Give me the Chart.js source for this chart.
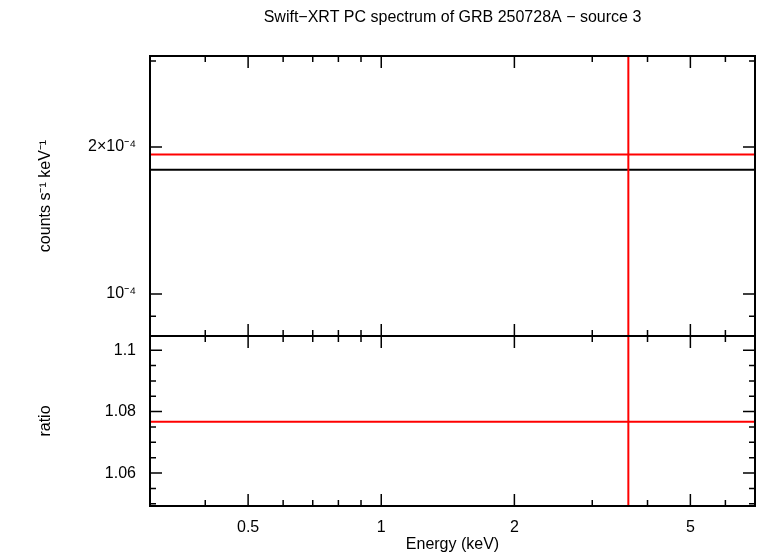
<!DOCTYPE html>
<html><head><meta charset="utf-8">
<script src="https://cdn.jsdelivr.net/npm/chart.js@4"></script>
<style>html,body{margin:0;padding:0;background:#fff}canvas{display:block}</style>
</head><body>
<div style="width:758px;height:556px"><canvas id="c"></canvas></div>
<script>
const xRange = [0.3, 7];
const specRange = [8.2e-5, 3.07e-4];
const ratioRange = [1.0493, 1.1046];
const dataX = [3.62];
const dataXLo = [0.3];
const dataXHi = [7];
const dataY = [1.93e-4];
const modelY = [1.795e-4];
const ratioY = [1.0767];
const xTickLabels = [0.5, 1, 2, 5];
const yTopTicks = [1e-4, 2e-4];
const yTopLabels = ['10\u207B\u2074', '2\u00D710\u207B\u2074'];
const yBotTicks = [1.06, 1.08, 1.1];
const yBotLabels = ['1.06', '1.08', '1.1'];

const FONT = '"Liberation Sans", Arial, sans-serif';
const red = '#ff0000';
const ds = [];
dataX.forEach((x,i)=>{
  ds.push({data:[{x:dataXLo[i],y:dataY[i]},{x:dataXHi[i],y:dataY[i]}],yAxisID:'y',borderColor:red,borderWidth:2,pointRadius:0,showLine:true});
  ds.push({data:[{x:x,y:specRange[0]},{x:x,y:specRange[1]}],yAxisID:'y',borderColor:red,borderWidth:2,pointRadius:0,showLine:true});
  ds.push({data:[{x:dataXLo[i],y:modelY[i]},{x:dataXHi[i],y:modelY[i]}],yAxisID:'y',borderColor:'#000',borderWidth:2,pointRadius:0,showLine:true});
  ds.push({data:[{x:dataXLo[i],y:ratioY[i]},{x:dataXHi[i],y:ratioY[i]}],yAxisID:'y2',borderColor:red,borderWidth:2,pointRadius:0,showLine:true});
  ds.push({data:[{x:x,y:ratioRange[0]},{x:x,y:ratioRange[1]}],yAxisID:'y2',borderColor:red,borderWidth:2,pointRadius:0,showLine:true});
});

function minorLog(lo,hi){const r=[];for(let e=-6;e<3;e++)for(let m=1;m<10;m++){const v=m*Math.pow(10,e);if(v>=lo*0.9999&&v<=hi*1.0001)r.push(v);}return r;}

const deco = {
  id:'deco',
  afterDraw(chart){
    const ctx=chart.ctx, a=chart.chartArea, sx=chart.scales.x, sy=chart.scales.y, sy2=chart.scales.y2;
    ctx.save();
    ctx.strokeStyle='#000'; ctx.lineWidth=2;
    const yt=sy.top, yb=sy.bottom, y2t=sy2.top, y2b=sy2.bottom;
    ctx.strokeRect(a.left,yt,a.right-a.left,yb-yt);
    ctx.strokeRect(a.left,y2t,a.right-a.left,y2b-y2t);
    ctx.lineWidth=1.5;
    minorLog(xRange[0],xRange[1]).forEach(v=>{
      const px=sx.getPixelForValue(v); const major=xTickLabels.includes(+v.toPrecision(3));
      const L=major?12:6;
      [[yt,1],[yb,-1],[y2t,1],[y2b,-1]].forEach(([y,d])=>{ctx.beginPath();ctx.moveTo(px,y);ctx.lineTo(px,y+d*L);ctx.stroke();});
    });
    minorLog(specRange[0],specRange[1]).forEach(v=>{
      const py=sy.getPixelForValue(v); const major=yTopTicks.some(t=>Math.abs(t-v)<1e-9);
      const L=major?12:6;
      ctx.beginPath();ctx.moveTo(a.left,py);ctx.lineTo(a.left+L,py);ctx.moveTo(a.right,py);ctx.lineTo(a.right-L,py);ctx.stroke();
    });
    for(let k=0;k<=12;k++){const v=1.05+k*0.005;if(v<ratioRange[0]||v>ratioRange[1])continue;
      const py=sy2.getPixelForValue(v); const major=Math.abs(((v-1.06)/0.02)-Math.round((v-1.06)/0.02))<1e-6;
      const L=major?12:6;
      ctx.beginPath();ctx.moveTo(a.left,py);ctx.lineTo(a.left+L,py);ctx.moveTo(a.right,py);ctx.lineTo(a.right-L,py);ctx.stroke();
    }
    ctx.fillStyle='#000'; ctx.font='16px '+FONT; ctx.textAlign='center'; ctx.textBaseline='middle';
    ctx.fillText('Swift\u2212XRT PC spectrum of GRB 250728A \u2212 source 3',(a.left+a.right)/2,18);
    ctx.fillText('Energy (keV)',(a.left+a.right)/2,545);
    ctx.save();ctx.translate(46,(yt+yb)/2);ctx.rotate(-Math.PI/2);ctx.fillText('counts s\u207B\u00B9 keV\u207B\u00B9',0,0);ctx.restore();
    ctx.save();ctx.translate(46,(y2t+y2b)/2);ctx.rotate(-Math.PI/2);ctx.fillText('ratio',0,0);ctx.restore();
    ctx.restore();
  }
};

new Chart(document.getElementById('c'),{
  type:'scatter',
  data:{datasets:ds},
  plugins:[deco],
  options:{
    responsive:true,maintainAspectRatio:false,animation:false,
    layout:{padding:{left:40,top:56,right:3,bottom:10}},
    plugins:{legend:{display:false},tooltip:{enabled:false},title:{display:false}},
    scales:{
      x:{type:'logarithmic',min:xRange[0],max:xRange[1],
        grid:{display:false},border:{display:false},
        afterBuildTicks:s=>{s.ticks=xTickLabels.map(v=>({value:v}));},
        afterFit:s=>{s.height=40;},
        ticks:{color:'#000',font:{size:16,family:FONT},padding:4,maxRotation:0,autoSkip:false,callback:v=>String(v)}},
      y2:{type:'linear',position:'left',stack:'v',stackWeight:170,min:ratioRange[0],max:ratioRange[1],
        grid:{display:false},border:{display:false},
        afterBuildTicks:s=>{s.ticks=yBotTicks.map(v=>({value:v}));},
        afterFit:s=>{s.width=110;},
        ticks:{color:'#000',font:{size:16,family:FONT},padding:6,autoSkip:false,callback:v=>yBotLabels[yBotTicks.findIndex(t=>Math.abs(t-v)<1e-9)]}},
      y:{type:'logarithmic',position:'left',stack:'v',stackWeight:280,min:specRange[0],max:specRange[1],
        grid:{display:false},border:{display:false},
        afterBuildTicks:s=>{s.ticks=yTopTicks.map(v=>({value:v}));},
        afterFit:s=>{s.width=110;},
        ticks:{color:'#000',font:{size:16,family:FONT},padding:6,autoSkip:false,callback:v=>yTopLabels[yTopTicks.findIndex(t=>Math.abs(t-v)<1e-9)]}}
    }
  }
});
</script>
</body></html>
